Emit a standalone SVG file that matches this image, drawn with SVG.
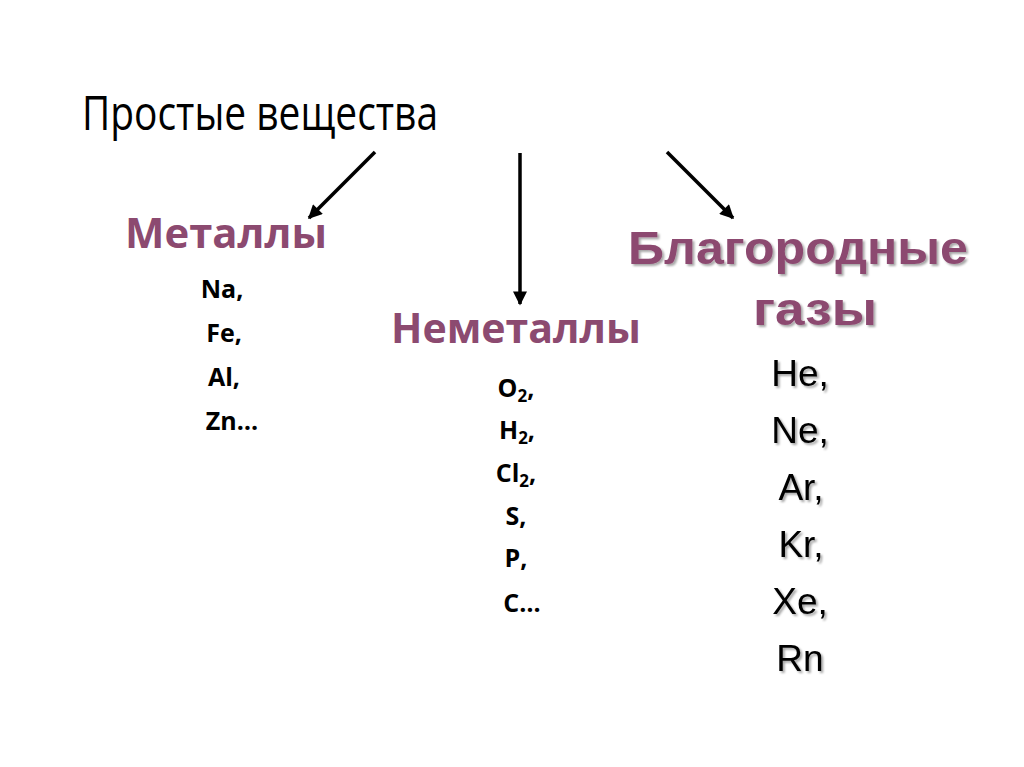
<svg xmlns="http://www.w3.org/2000/svg" width="1024" height="767" viewBox="0 0 1024 767">
<style>
.title{font-family:"Open Sans","Noto Sans",sans-serif;font-size:47px;fill:#000}
.head{font-family:"Open Sans","Noto Sans",sans-serif;font-size:42px;font-weight:bold;fill:#8c4a70}
.item{font-family:"Open Sans","Noto Sans",sans-serif;font-size:25px;font-weight:bold;fill:#000;text-anchor:middle}
.gas{font-family:"Liberation Sans",Arial,sans-serif;font-size:47px;font-weight:bold;fill:#8c4a70;filter:url(#sh)}
.el{font-family:"Liberation Sans",Arial,sans-serif;font-size:37px;fill:#000;text-anchor:middle;filter:url(#sh)}
.conn{stroke:#000;stroke-width:3.5;fill:none;marker-end:url(#ah)}
</style>
<defs>
<marker id="ah" viewBox="0 0 10 10" refX="9" refY="5" markerWidth="4.2" markerHeight="4" orient="auto" markerUnits="strokeWidth">
<path d="M0,0 L10,5 L0,10 z" fill="#000"/>
</marker>
<filter id="sh" x="-10%" y="-20%" width="130%" height="150%">
<feDropShadow dx="2" dy="2" stdDeviation="1" flood-color="#000" flood-opacity="0.35"/>
</filter>
</defs>
<rect width="1024" height="767" fill="#fff"/>
<g id="root"><text class="title" x="82" y="130" textLength="356" lengthAdjust="spacingAndGlyphs">Простые вещества</text></g>
<g id="connectors">
<line class="conn" x1="375" y1="152" x2="309" y2="218"/>
<line class="conn" x1="520" y1="153" x2="520" y2="304"/>
<line class="conn" x1="667" y1="152" x2="733" y2="218"/>
</g>
<g id="metals">
<text class="head" x="125" y="248" textLength="202" lengthAdjust="spacingAndGlyphs">Металлы</text>
<text class="item" x="222" y="298">Na,</text>
<text class="item" x="224" y="342">Fe,</text>
<text class="item" x="224" y="386">Al,</text>
<text class="item" x="232" y="430">Zn…</text>
</g>
<g id="nonmetals">
<text class="head" x="391" y="343" textLength="250" lengthAdjust="spacingAndGlyphs">Неметаллы</text>
<text class="item" x="516" y="397">O<tspan font-size="17" dy="5">2</tspan><tspan dy="-5">,</tspan></text>
<text class="item" x="517" y="439">H<tspan font-size="17" dy="5">2</tspan><tspan dy="-5">,</tspan></text>
<text class="item" x="516" y="482">Cl<tspan font-size="17" dy="5">2</tspan><tspan dy="-5">,</tspan></text>
<text class="item" x="516" y="525">S,</text>
<text class="item" x="516" y="567">P,</text>
<text class="item" x="522" y="612">C…</text>
</g>
<g id="noble">
<text class="gas" x="628" y="264" textLength="340" lengthAdjust="spacingAndGlyphs">Благородные</text>
<text class="gas" x="753" y="325" textLength="124" lengthAdjust="spacingAndGlyphs">газы</text>
<text class="el" x="800" y="386">He,</text>
<text class="el" x="800" y="443">Ne,</text>
<text class="el" x="801" y="500">Ar,</text>
<text class="el" x="801" y="557">Kr,</text>
<text class="el" x="800" y="614">Xe,</text>
<text class="el" x="800" y="671">Rn</text>
</g>
</svg>
